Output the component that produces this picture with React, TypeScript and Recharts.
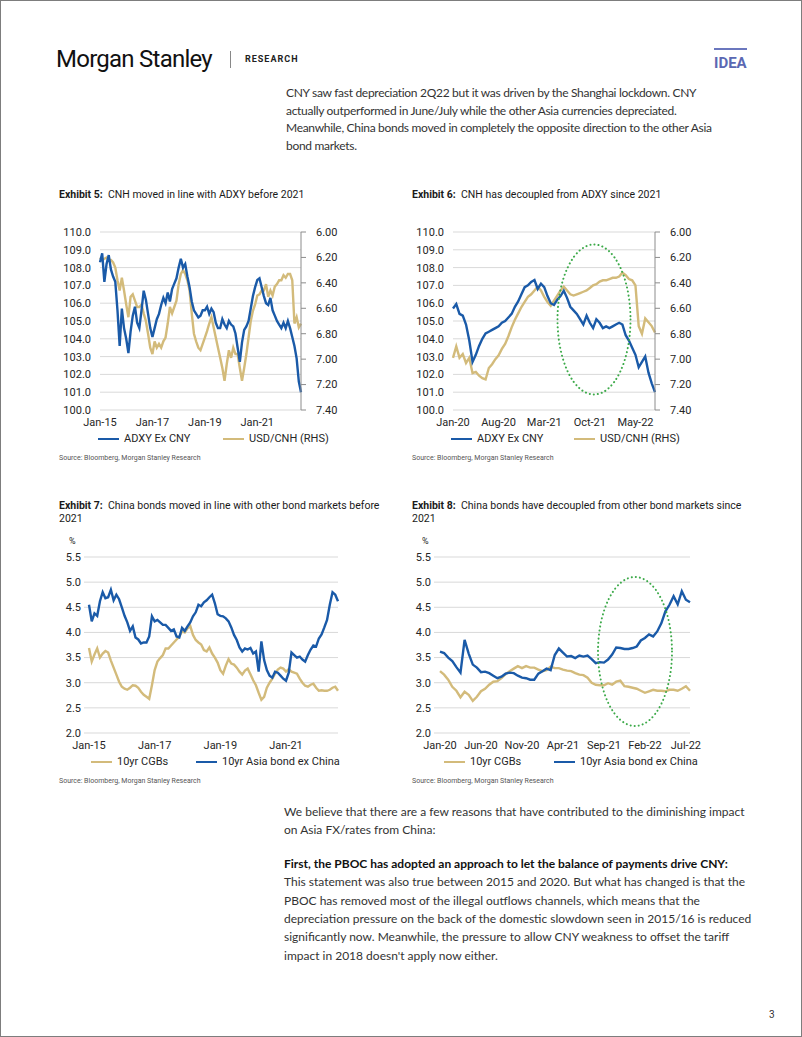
import { LineChart, Line, XAxis, YAxis, CartesianGrid } from 'recharts';

const BLUE = '#1a5aa8';
const GOLD = '#d3bb7b';
const GRID = '#d9d9d9';
const INK = '#262626';
const CHART_FONT = 'Roboto, "Liberation Sans", Arial, sans-serif';
const TEXT_FONT = 'Lato, "Open Sans", sans-serif';

// Exhibit 5 - monthly, Jan-15 .. Sep-22
const adxy5 = [
  108.3, 108.8, 107.2, 108.2, 108.7, 107.9, 107.5, 107.2, 105.6, 103.6,
  105.7, 104.6, 104.0, 103.2, 104.4, 105.3, 105.8, 104.9, 104.6, 105.6,
  106.7, 106.2, 105.4, 104.6, 104.1, 104.6, 105.1, 105.4, 105.9, 106.3,
  106.0, 106.6, 106.1, 106.8, 107.1, 107.4, 108.0, 108.5, 108.0, 108.2,
  107.5, 106.9, 106.1, 105.6, 105.4, 105.2, 105.3, 105.6, 105.6, 105.8,
  105.4, 105.7, 105.5, 104.9, 104.6, 104.6, 105.1, 104.8, 104.6, 105.0,
  104.8, 104.7, 104.3, 103.5, 102.7, 103.8, 104.5, 104.7, 105.0, 105.7,
  106.4, 106.9, 107.3, 107.4, 106.9, 106.4, 106.0, 105.9, 106.3, 105.6,
  105.3, 105.0, 104.8, 104.6, 104.9, 104.6, 105.0, 104.6, 104.1, 103.6,
  102.9, 101.6, 101.0,
];
const usdCnh5 = [
  6.2, 6.22, 6.21, 6.2, 6.22, 6.22, 6.24, 6.28, 6.38, 6.46,
  6.36, 6.46, 6.57, 6.67, 6.51, 6.49, 6.54, 6.59, 6.59, 6.57,
  6.64, 6.7, 6.8, 6.91, 6.96, 6.86, 6.91, 6.88, 6.91, 6.86,
  6.83, 6.72, 6.59, 6.64, 6.59, 6.54, 6.41, 6.33, 6.3, 6.33,
  6.38, 6.46, 6.64, 6.8, 6.86, 6.91, 6.93, 6.88, 6.83, 6.78,
  6.72, 6.67, 6.75, 6.83, 6.91, 6.99, 7.07, 7.17, 7.04, 6.93,
  6.99, 6.91, 6.96, 6.96, 7.07, 7.17, 7.07, 6.96, 6.83, 6.7,
  6.62, 6.57, 6.5, 6.49, 6.46, 6.46, 6.41, 6.51, 6.46, 6.5,
  6.43, 6.41, 6.38, 6.38, 6.34, 6.36, 6.33, 6.33, 6.38, 6.72,
  6.67, 6.75, 6.72,
];
const xTicks5 = [0, 24, 48, 72];
const xLabels5 = ['Jan-15', 'Jan-17', 'Jan-19', 'Jan-21'];

// Exhibit 6 - half-monthly, Jan-20 .. Aug-22
const adxy6 = [
  105.7, 105.95, 105.4, 105.3, 104.8, 103.9, 102.7, 103.1, 103.6, 104.0,
  104.3, 104.4, 104.5, 104.6, 104.7, 104.9, 105.0, 105.2, 105.4, 105.8,
  106.1, 106.5, 106.9, 107.0, 107.2, 107.3, 106.8, 107.1, 106.9, 106.4,
  106.0, 105.9, 106.2, 106.4, 106.7, 106.3, 105.8, 105.6, 105.4, 105.1,
  104.8, 105.3, 104.9, 104.6, 105.1, 104.9, 104.6, 104.7, 104.6, 104.7,
  104.8, 104.9, 104.8, 104.2, 103.9, 103.5, 103.1, 102.4, 102.7, 103.0,
  102.1, 101.5, 101.0,
];
const usdCnh6 = [
  6.99, 6.9, 6.99, 6.96, 7.03, 6.99, 7.11, 7.1, 7.13, 7.15,
  7.16, 7.07, 7.04, 7.0, 6.97, 6.92, 6.88, 6.82, 6.75, 6.69,
  6.64, 6.59, 6.55, 6.51, 6.49, 6.46, 6.43, 6.46, 6.51, 6.55,
  6.58, 6.54, 6.5, 6.46, 6.43, 6.46, 6.49, 6.5, 6.49, 6.48,
  6.47, 6.46, 6.44, 6.42, 6.41, 6.39, 6.38, 6.38, 6.37, 6.36,
  6.36, 6.35, 6.32, 6.34, 6.37, 6.38, 6.42, 6.74, 6.8, 6.68,
  6.71, 6.74, 6.79,
];
const xTicks6 = [0, 14, 28, 42, 56];
const xLabels6 = ['Jan-20', 'Aug-20', 'Mar-21', 'Oct-21', 'May-22'];

// Exhibit 7 - monthly, Jan-15 .. Aug-22
const cgb7 = [
  3.69, 3.42, 3.56, 3.68, 3.5, 3.58, 3.63, 3.6, 3.44, 3.3,
  3.16, 3.02, 2.92, 2.88, 2.86, 2.9, 2.95, 2.94, 2.9, 2.82,
  2.76, 2.72, 2.68, 2.95, 3.25, 3.42, 3.49, 3.55, 3.68, 3.68,
  3.74, 3.8, 3.86, 3.92, 4.02, 4.0, 4.08, 4.13, 3.95, 3.85,
  3.8, 3.76, 3.65, 3.62, 3.7, 3.58, 3.5, 3.4, 3.25, 3.18,
  3.34, 3.47, 3.38, 3.36, 3.3, 3.22, 3.16, 3.24, 3.28, 3.17,
  3.05, 2.95, 2.8, 2.66, 2.72, 2.9, 3.0, 3.08, 3.18, 3.26,
  3.3, 3.28, 3.22, 3.27, 3.22, 3.2, 3.18, 3.08, 3.0, 2.94,
  2.92, 2.96, 2.98, 2.9, 2.84, 2.85, 2.84, 2.84, 2.86, 2.9,
  2.92, 2.84,
];
const asia7 = [
  4.55, 4.22, 4.38, 4.33, 4.62, 4.8, 4.68, 4.7, 4.85, 4.64,
  4.75, 4.66, 4.5, 4.33, 4.2, 4.03, 4.12, 3.9, 3.86, 3.78,
  3.8, 3.8, 3.92, 4.32, 4.22, 4.25, 4.2, 4.15, 4.15, 4.09,
  4.03, 4.06, 3.92, 3.9, 4.09, 4.03, 4.12, 4.2, 4.32, 4.4,
  4.55, 4.52, 4.6, 4.64, 4.7, 4.75, 4.58, 4.36, 4.33, 4.32,
  4.28, 4.22, 4.1, 3.95, 3.85, 3.7, 3.62, 3.68, 3.66, 3.69,
  3.58, 3.62, 3.22, 3.82, 3.45, 3.25, 3.14, 3.1, 3.22, 3.2,
  3.14, 3.08, 3.04, 3.2, 3.6, 3.55, 3.5, 3.52, 3.46, 3.42,
  3.55, 3.66, 3.74, 3.72, 3.88, 3.96, 4.1, 4.25, 4.55, 4.8,
  4.75, 4.62,
];
const xTicks7 = [0, 24, 48, 72];
const xLabels7 = ['Jan-15', 'Jan-17', 'Jan-19', 'Jan-21'];

// Exhibit 8 - half-monthly, Jan-20 .. Jul-22
const cgb8 = [
  3.23, 3.16, 3.06, 2.92, 2.84, 2.71, 2.82, 2.76, 2.64, 2.72,
  2.83, 2.88, 2.96, 3.02, 3.03, 3.09, 3.17, 3.23, 3.28, 3.33,
  3.29, 3.33, 3.3, 3.3, 3.26, 3.23, 3.25, 3.32, 3.29, 3.29,
  3.26, 3.24, 3.23, 3.19, 3.16, 3.15, 3.1, 3.0, 2.96, 2.95,
  2.95, 2.99, 2.96, 3.02, 3.04, 2.93, 2.92, 2.9, 2.88, 2.84,
  2.8, 2.83, 2.86, 2.84, 2.84, 2.83, 2.86, 2.86, 2.84, 2.88,
  2.93, 2.84,
];
const asia8 = [
  3.62, 3.59, 3.5, 3.43, 3.31, 3.2, 3.85, 3.58, 3.36, 3.3,
  3.21, 3.22, 3.19, 3.14, 3.09, 3.12, 3.18, 3.2, 3.19, 3.14,
  3.1, 3.09, 3.06, 3.06, 3.18, 3.23, 3.28, 3.25, 3.55, 3.68,
  3.6, 3.52, 3.53, 3.49, 3.54, 3.52, 3.54, 3.47, 3.39, 3.41,
  3.4, 3.46, 3.56, 3.7, 3.69, 3.67, 3.67, 3.69, 3.72, 3.84,
  3.89, 3.96, 3.92, 4.02, 4.18, 4.42, 4.55, 4.72, 4.56, 4.82,
  4.65, 4.6,
];
const xTicks8 = [0, 10, 20, 30, 40, 50, 60];
const xLabels8 = ['Jan-20', 'Jun-20', 'Nov-20', 'Apr-21', 'Sep-21', 'Feb-22', 'Jul-22'];

const adxyTicks = [100, 101, 102, 103, 104, 105, 106, 107, 108, 109, 110];
const cnhTicks = [6.0, 6.2, 6.4, 6.6, 6.8, 7.0, 7.2, 7.4];
const yieldTicks = [2.0, 2.5, 3.0, 3.5, 4.0, 4.5, 5.0, 5.5];

const tickStyle = { fill: INK, fontSize: 11, fontFamily: CHART_FONT };
const LINE_W = 2.4;

function FxChart({ left, yw, plotW, adxy, cnh, ticks, labels }: any) {
  const data = adxy.map((v: number, i: number) => ({ i, adxy: v, cnh: cnh[i] }));
  return (
    <div style={{ position: 'absolute', left, top: 221 }}>
      <LineChart width={yw + plotW + 45} height={208} data={data} margin={{ top: 10, right: 0, bottom: 0, left: 0 }}>
        <CartesianGrid vertical={false} stroke={GRID} />
        <XAxis
          dataKey="i"
          type="number"
          domain={[0, data.length - 1]}
          ticks={ticks}
          interval={0}
          tickFormatter={(v) => labels[ticks.indexOf(v)]}
          axisLine={false}
          tickLine={false}
          height={20}
          tick={tickStyle}
        />
        <YAxis
          domain={[100, 110]}
          ticks={adxyTicks}
          interval={0}
          tickFormatter={(v) => v.toFixed(1)}
          width={yw}
          axisLine={false}
          tickLine={false}
          tickMargin={3}
          tick={tickStyle}
        />
        <YAxis
          yAxisId="r"
          orientation="right"
          reversed
          domain={[6, 7.4]}
          ticks={cnhTicks}
          interval={0}
          tickFormatter={(v) => v.toFixed(2)}
          width={45}
          axisLine={{ stroke: '#8c8c8c' }}
          tickLine={{ stroke: '#8c8c8c' }}
          tickSize={5}
          tickMargin={10}
          tick={tickStyle}
        />
        <Line yAxisId="r" type="linear" dataKey="cnh" stroke={GOLD} strokeWidth={LINE_W} dot={false} isAnimationActive={false} />
        <Line type="linear" dataKey="adxy" stroke={BLUE} strokeWidth={LINE_W} dot={false} isAnimationActive={false} />
      </LineChart>
    </div>
  );
}

function BondChart({ left, plotW, padLeft, marginRight, cgb, asia, ticks, labels }: any) {
  const data = cgb.map((v: number, i: number) => ({ i, cgb: v, asia: asia[i] }));
  return (
    <div style={{ position: 'absolute', left: left - 30, top: 545.7 }}>
      <LineChart width={30 + plotW + marginRight} height={206} data={data} margin={{ top: 10, right: marginRight, bottom: 0, left: 0 }}>
        <CartesianGrid vertical={false} stroke={GRID} />
        <XAxis
          dataKey="i"
          type="number"
          domain={[0, data.length - 1]}
          ticks={ticks}
          interval={0}
          padding={{ left: padLeft, right: 0 }}
          tickFormatter={(v) => labels[ticks.indexOf(v)]}
          axisLine={false}
          tickLine={false}
          height={20}
          tick={tickStyle}
        />
        <YAxis
          domain={[2, 5.5]}
          ticks={yieldTicks}
          interval={0}
          tickFormatter={(v) => v.toFixed(1)}
          width={30}
          axisLine={false}
          tickLine={false}
          tickSize={0}
          tickMargin={3}
          tick={tickStyle}
        />
        <Line type="linear" dataKey="cgb" stroke={GOLD} strokeWidth={LINE_W} dot={false} isAnimationActive={false} />
        <Line type="linear" dataKey="asia" stroke={BLUE} strokeWidth={LINE_W} dot={false} isAnimationActive={false} />
      </LineChart>
    </div>
  );
}

function Abs({ left, top, size, lh, children, style }: any) {
  return (
    <div style={{ position: 'absolute', left, top, fontSize: size, lineHeight: `${lh}px`, whiteSpace: 'nowrap', ...style }}>
      {children}
    </div>
  );
}

function LegendItem({ x, y, color, label }: any) {
  return (
    <>
      <div style={{ position: 'absolute', left: x, top: y - 1.25, width: 21, height: 2.5, background: color }} />
      <Abs left={x + 26} top={y - 7} size={11} lh={14} style={{ fontFamily: CHART_FONT, color: INK }}>
        {label}
      </Abs>
    </>
  );
}

function Title({ x, y, num, lines }: any) {
  return (
    <div style={{ position: 'absolute', left: x, top: y, fontFamily: CHART_FONT, fontSize: 10.5, lineHeight: '13.5px', color: '#1a1a1a', whiteSpace: 'nowrap' }}>
      <b>Exhibit {num}:</b>
      {'\u00a0 '}
      {lines[0]}
      {lines.slice(1).map((l: string) => (
        <div key={l}>{l}</div>
      ))}
    </div>
  );
}

function Source({ x, y }: any) {
  return (
    <Abs left={x} top={y - 4.5} size={7} lh={9} style={{ fontFamily: CHART_FONT, color: '#555' }}>
      Source: Bloomberg, Morgan Stanley Research
    </Abs>
  );
}

const para1 = [
  'CNY saw fast depreciation 2Q22 but it was driven by the Shanghai lockdown. CNY',
  'actually outperformed in June/July while the other Asia currencies depreciated.',
  'Meanwhile, China bonds moved in completely the opposite direction to the other Asia',
  'bond markets.',
];
const para2 = [
  'We believe that there are a few reasons that have contributed to the diminishing impact',
  'on Asia FX/rates from China:',
];
const para3Bold = 'First, the PBOC has adopted an approach to let the balance of payments drive CNY:';
const para3 = [
  'This statement was also true between 2015 and 2020. But what has changed is that the',
  'PBOC has removed most of the illegal outflows channels, which means that the',
  'depreciation pressure on the back of the domestic slowdown seen in 2015/16 is reduced',
  'significantly now. Meanwhile, the pressure to allow CNY weakness to offset the tariff',
  "impact in 2018 doesn't apply now either.",
];

export default function App() {
  const body = { fontFamily: TEXT_FONT, color: '#333' };
  return (
    <div
      style={{
        position: 'relative',
        width: 802,
        height: 1037,
        boxSizing: 'border-box',
        border: '1px solid #7d7d7d',
        background: '#fff',
        overflow: 'hidden',
      }}
    >
      <style>{'body{margin:0}'}</style>

      {/* header */}
      <Abs left={55} top={44} size={24} lh={28} style={{ fontFamily: CHART_FONT, color: '#111', letterSpacing: -0.75 }}>
        Morgan Stanley
      </Abs>
      <div style={{ position: 'absolute', left: 229, top: 50, width: 1, height: 17, background: '#888' }} />
      <Abs left={244} top={52} size={9} lh={12} style={{ fontFamily: CHART_FONT, fontWeight: 700, letterSpacing: 1, color: '#222' }}>
        RESEARCH
      </Abs>
      <div style={{ position: 'absolute', left: 713, top: 47, width: 33, height: 2, background: '#6b77be' }} />
      <Abs left={713} top={52.5} size={15} lh={18} style={{ fontFamily: CHART_FONT, fontWeight: 700, color: '#5b68b3' }}>
        IDEA
      </Abs>

      {para1.map((l, k) => (
        <Abs key={l} left={285} top={82.7 + k * 17.8} size={12} lh={18} style={{ ...body, letterSpacing: -0.3 }}>
          {l}
        </Abs>
      ))}

      {/* exhibits 5 & 6 */}
      <Title x={58} y={186.5} num={5} lines={['CNH moved in line with ADXY before 2021']} />
      <Title x={411} y={186.5} num={6} lines={['CNH has decoupled from ADXY since 2021']} />
      <FxChart left={40} yw={59} plotW={201} adxy={adxy5} cnh={usdCnh5} ticks={xTicks5} labels={xLabels5} />
      <FxChart left={392} yw={60} plotW={202} adxy={adxy6} cnh={usdCnh6} ticks={xTicks6} labels={xLabels6} />
      <LegendItem x={97} y={438} color={BLUE} label="ADXY Ex CNY" />
      <LegendItem x={222} y={438} color={GOLD} label="USD/CNH (RHS)" />
      <LegendItem x={450} y={438} color={BLUE} label="ADXY Ex CNY" />
      <LegendItem x={573} y={438} color={GOLD} label="USD/CNH (RHS)" />
      <Source x={58} y={457} />
      <Source x={411} y={457} />

      {/* exhibits 7 & 8 */}
      <Title x={58} y={497.5} num={7} lines={['China bonds moved in line with other bond markets before', '2021']} />
      <Title x={411} y={497.5} num={8} lines={['China bonds have decoupled from other bond markets since', '2021']} />
      <Abs left={68} top={535} size={9} lh={10} style={{ fontFamily: CHART_FONT, color: INK }}>%</Abs>
      <Abs left={421} top={535} size={9} lh={10} style={{ fontFamily: CHART_FONT, color: INK }}>%</Abs>
      <BondChart left={83} plotW={254} padLeft={5} marginRight={12} cgb={cgb7} asia={asia7} ticks={xTicks7} labels={xLabels7} />
      <BondChart left={433} plotW={256} padLeft={6} marginRight={15} cgb={cgb8} asia={asia8} ticks={xTicks8} labels={xLabels8} />
      <LegendItem x={90} y={761} color={GOLD} label="10yr CGBs" />
      <LegendItem x={195} y={761} color={BLUE} label="10yr Asia bond ex China" />
      <LegendItem x={443} y={761} color={GOLD} label="10yr CGBs" />
      <LegendItem x={553} y={761} color={BLUE} label="10yr Asia bond ex China" />
      <Source x={58} y={780} />
      <Source x={411} y={780} />

      {/* annotation ellipses */}
      <svg width={802} height={1037} style={{ position: 'absolute', left: 0, top: 0, pointerEvents: 'none' }}>
        <ellipse cx={593} cy={318.5} rx={36.5} ry={75} fill="none" stroke="#3daa4a" strokeWidth={2} strokeDasharray="0.1 4" strokeLinecap="round" />
        <ellipse cx={634} cy={650.5} rx={37} ry={74.5} fill="none" stroke="#3daa4a" strokeWidth={2} strokeDasharray="0.1 4" strokeLinecap="round" />
      </svg>

      {para2.map((l, k) => (
        <Abs key={l} left={283} top={802 + k * 18.3} size={12} lh={18} style={body}>
          {l}
        </Abs>
      ))}
      <Abs left={283} top={854} size={12} lh={18} style={{ ...body, color: '#111', fontWeight: 700 }}>
        {para3Bold}
      </Abs>
      {para3.map((l, k) => (
        <Abs key={l} left={283} top={872.3 + k * 18.3} size={12} lh={18} style={body}>
          {l}
        </Abs>
      ))}

      <Abs left={768} top={1008} size={10} lh={12} style={{ fontFamily: CHART_FONT, color: '#333' }}>3</Abs>
    </div>
  );
}
